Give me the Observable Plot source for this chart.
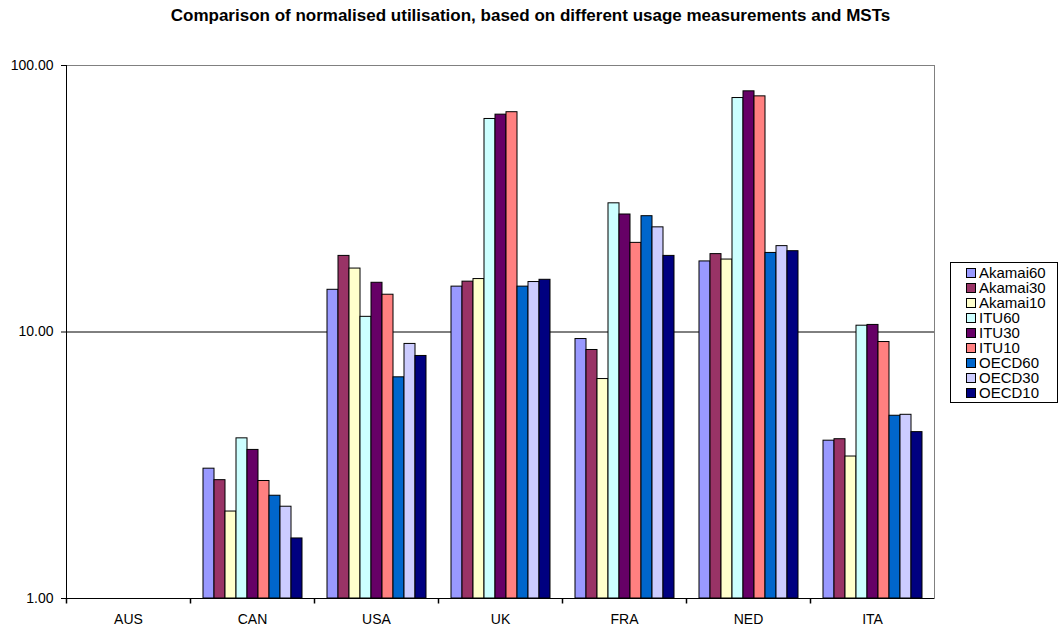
<!DOCTYPE html>
<html>
<head>
<meta charset="utf-8">
<script src="https://cdn.jsdelivr.net/npm/d3@7"></script>
<script src="https://cdn.jsdelivr.net/npm/@observablehq/plot@0.6"></script>
<style>
  body { margin: 0; background: #fff; font-family: "Liberation Sans", Arial, sans-serif; }
  #wrap { position: relative; width: 1061px; height: 627px; }
  #title { height: 40px; text-align: center; font-weight: bold; font-size: 17px; line-height: 31px; }
  #legend { position: absolute; left: 950px; top: 262px; width: 106px; border: 1px solid #000; padding: 2px 0 2px 0; font-size: 15px; }
  #legend div { height: 15px; line-height: 15px; padding-left: 15px; white-space: nowrap; }
  #legend span { display: inline-block; width: 8px; height: 8px; border: 1px solid #000; margin-right: 3px; vertical-align: 0px; }
</style>
</head>
<body>
<div id="wrap">
  <div id="title">Comparison of normalised utilisation, based on different usage measurements and MSTs</div>
  <div id="vis"></div>
  <div id="legend"></div>
</div>
<script>
// paises y series
const countries = ['AUS', 'CAN', 'USA', 'UK', 'FRA', 'NED', 'ITA']
const series = ['Akamai60', 'Akamai30', 'Akamai10', 'ITU60', 'ITU30', 'ITU10', 'OECD60', 'OECD30', 'OECD10']
const colors = ['#9999FF', '#993366', '#FFFFCC', '#CCFFFF', '#660066', '#FF8080', '#0066CC', '#CCCCFF', '#000080']

// valores por serie (AUS sin datos)
const akamai60 = [null, 3.07, 14.4, 14.8, 9.41, 18.4, 3.91]
const akamai30 = [null, 2.78, 19.3, 15.45, 8.56, 19.6, 3.96]
const akamai10 = [null, 2.12, 17.3, 15.8, 6.66, 18.7, 3.41]
const itu60 = [null, 3.99, 11.4, 63.0, 30.4, 75.5, 10.56]
const itu30 = [null, 3.61, 15.3, 65.4, 27.6, 80.0, 10.63]
const itu10 = [null, 2.76, 13.8, 66.8, 21.6, 76.6, 9.17]
const oecd60 = [null, 2.43, 6.76, 14.8, 27.2, 19.8, 4.85]
const oecd30 = [null, 2.21, 9.02, 15.4, 24.7, 21.0, 4.89]
const oecd10 = [null, 1.68, 8.13, 15.7, 19.3, 20.1, 4.21]

const values = [akamai60, akamai30, akamai10, itu60, itu30, itu10, oecd60, oecd30, oecd10]

const data = []
series.forEach((s, i) => {
  countries.forEach((c, j) => {
    if (values[i][j] != null) data.push({country: c, series: s, value: values[i][j]})
  })
})

// tick chiquito para separar categorias
const tickSymbol = {draw(ctx) { ctx.moveTo(0, 0); ctx.lineTo(0, 5) }}

let chart = Plot.plot({
  width: 1061,
  height: 587,
  marginTop: 25,
  marginBottom: 29,
  marginLeft: 66,
  marginRight: 127,
  style: {fontFamily: '"Liberation Sans", Arial, sans-serif', fontSize: 14, color: '#000'},
  fx: {domain: countries, padding: 0, label: null, axis: null},
  x: {domain: series, paddingInner: 0, paddingOuter: 0.76, axis: null},
  y: {type: 'log', domain: [1, 100], label: null, axis: null},
  color: {domain: series, range: colors},
  marks: [
    Plot.frame({stroke: '#808080', facet: 'super'}),
    Plot.ruleY([10], {stroke: '#000'}),
    Plot.barY(data, {
      fx: 'country',
      x: 'series',
      y1: 1,
      y2: 'value',
      fill: 'series',
      stroke: '#000',
      strokeWidth: 1,
    }),
    Plot.ruleY([1], {stroke: '#000'}),
    Plot.frame({anchor: 'left', stroke: '#000', facet: 'super'}),
    Plot.dot(countries, {fx: d => d, frameAnchor: 'bottom-left', symbol: tickSymbol, stroke: '#000', fill: 'none'}),
    Plot.axisY({ticks: [1, 10, 100], tickFormat: d3.format('.2f'), tickSize: 5, tickPadding: 8, label: null, fontSize: 14}),
    Plot.axisFx({anchor: 'bottom', label: null, tickSize: 0, tickPadding: 16, fontSize: 14}),
  ],
})

d3.select('#vis').append(() => chart)

// leyenda
const legend = d3.select('#legend')
series.forEach((s, i) => {
  const row = legend.append('div')
  row.append('span').style('background', colors[i])
  row.append('text').text(s)
})
</script>
</body>
</html>
